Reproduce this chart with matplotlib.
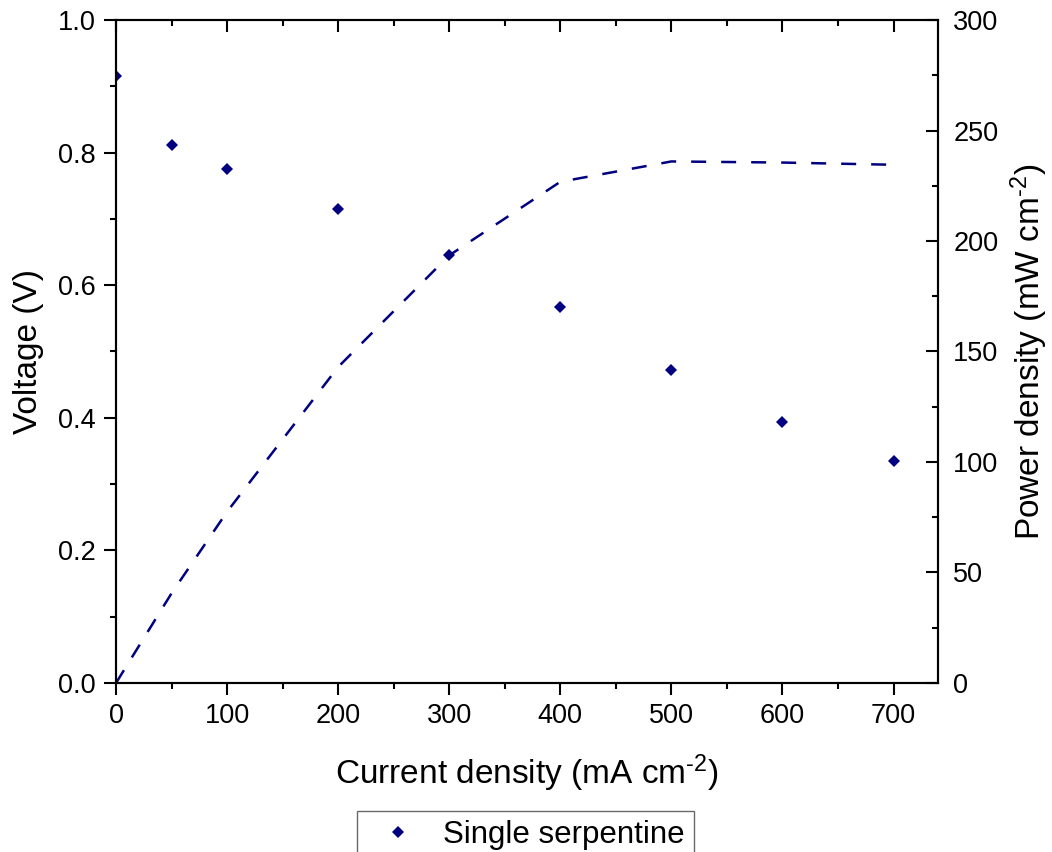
import numpy as np
import matplotlib.pyplot as plt
from matplotlib.ticker import MultipleLocator

plt.rcParams['font.family'] = ['Liberation Sans', 'DejaVu Sans']
plt.rcParams['mathtext.fontset'] = 'custom'
plt.rcParams['mathtext.rm'] = 'Liberation Sans'
plt.rcParams['mathtext.it'] = 'Liberation Sans'

# polarisation data
current = [0, 50, 100, 200, 300, 400, 500, 600, 700]
voltage = [0.916, 0.812, 0.775, 0.715, 0.645, 0.567, 0.472, 0.393, 0.335]
power = [0, 40.6, 77.5, 143, 193.5, 226.8, 236, 235.5, 234.5]

navy = '#000080'

fig = plt.figure(figsize=(10.52, 8.52), dpi=100)
ax = fig.add_axes([0.1103, 0.1984, 0.7813, 0.7781])
ax2 = ax.twinx()

ax.plot(current, voltage, linestyle='none', marker='D', ms=6.3, mew=0, color=navy,
        label='Single serpentine')
ax2.plot(current, power, linestyle=(0, (6, 6)), lw=1.8, color=navy)

ax.set_xlim(0, 740)
ax.set_ylim(0, 1.0)
ax2.set_ylim(0, 300)

ax.xaxis.set_major_locator(MultipleLocator(100))
ax.xaxis.set_minor_locator(MultipleLocator(50))
ax.yaxis.set_major_locator(MultipleLocator(0.2))
ax.yaxis.set_minor_locator(MultipleLocator(0.1))
ax2.yaxis.set_major_locator(MultipleLocator(50))
ax2.yaxis.set_minor_locator(MultipleLocator(25))
ax.yaxis.set_major_formatter(plt.FuncFormatter(lambda v, p: f'{v:.1f}'))

for a in (ax, ax2):
    for s in a.spines.values():
        s.set_linewidth(1.5)

ax.tick_params(axis='both', which='both', direction='out', width=1.5,
               labelsize=19.5)
ax.tick_params(which='major', length=8.6)
ax.tick_params(which='minor', length=4.3)
ax.tick_params(axis='x', which='both', top=True, labeltop=False, pad=6)
ax.tick_params(axis='y', which='both', pad=6)
# ticks on the top spine point inward
for t in ax.xaxis.get_major_ticks() + ax.xaxis.get_minor_ticks():
    t.tick2line.set_marker(3)
ax2.tick_params(axis='y', which='both', direction='in', width=1.5, labelsize=19.5, pad=11)
ax2.tick_params(which='major', length=8.6)
ax2.tick_params(which='minor', length=4.3)

ax.set_xlabel(r'Current density (mA cm$^{\text{-2}}$)', fontsize=24, labelpad=17)
ax.set_ylabel('Voltage (V)', fontsize=24, labelpad=10)
ax2.set_ylabel(r'Power density (mW cm$^{\text{-2}}$)', fontsize=24, labelpad=7)

leg = fig.legend(loc='upper left', bbox_to_anchor=(357 / 1052, 1 - 811 / 852),
                 fontsize=22.5, frameon=True, fancybox=False, handletextpad=0.45,
                 borderpad=0.3, handlelength=2.0, borderaxespad=0)
leg.get_frame().set_edgecolor('#444444')
leg.get_frame().set_linewidth(1.0)

fig.savefig('out.png', dpi=100)
